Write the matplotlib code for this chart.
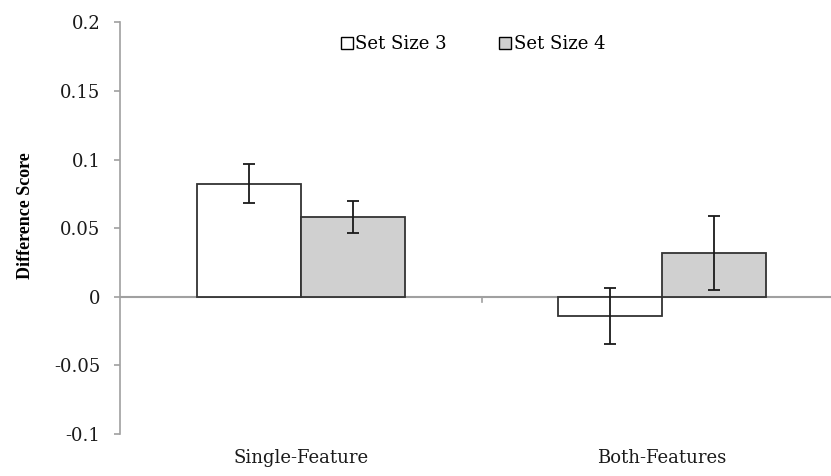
import matplotlib
matplotlib.use("Agg")
import matplotlib.pyplot as plt
import numpy as np
from matplotlib.patches import Patch

categories = ["Single-Feature", "Both-Features"]
series_names = ["Set Size 3", "Set Size 4"]
set3_values = [0.0825, -0.0138]
set3_errors = [0.0142, 0.0203]
set4_values = [0.058, 0.032]
set4_errors = [0.0118, 0.027]
y_ticks = [-0.1, -0.05, 0, 0.05, 0.1, 0.15, 0.2]
y_tick_labels = ["-0.1", "-0.05", "0", "0.05", "0.1", "0.15", "0.2"]

plt.rcParams['font.family'] = ['DejaVu Serif']

fig = plt.figure(figsize=(8.31, 4.76), dpi=100)
ax = fig.add_axes([120.5/831, 1-434/476, 722/831, (434-22.4)/476])

x = np.arange(len(categories))
w = 0.288
edge = "#333333"
ax.bar(x - w/2, set3_values, w, color="white", edgecolor=edge, linewidth=1.3, label=series_names[0], zorder=2)
ax.bar(x + w/2, set4_values, w, color="#d0d0d0", edgecolor=edge, linewidth=1.3, label=series_names[1], zorder=2)
ax.errorbar(x - w/2, set3_values, yerr=set3_errors, fmt="none", ecolor="#1a1a1a", elinewidth=1.3, capsize=4, capthick=1.3, zorder=3)
ax.errorbar(x + w/2, set4_values, yerr=set4_errors, fmt="none", ecolor="#1a1a1a", elinewidth=1.3, capsize=4, capthick=1.3, zorder=3)

ax.set_xlim(-0.5, len(categories) - 0.5)
ax.set_ylim(-0.1, 0.2)
ax.set_yticks(y_ticks)
ax.set_yticklabels(y_tick_labels, fontsize=13)

for s in ["top", "right", "bottom"]:
    ax.spines[s].set_visible(False)
ax.spines["left"].set_color("#a0a0a0")
ax.spines["left"].set_linewidth(1.2)
ax.tick_params(axis="y", direction="out", length=4.5, color="#a0a0a0", width=1.2, pad=10, labelcolor="#1a1a1a")

ax.axhline(0, color="#a0a0a0", linewidth=1.5, zorder=1)
for b in [0.5]:
    ax.plot([b, b], [0, -0.004], color="#a0a0a0", linewidth=1.2, zorder=1, clip_on=False)

ax.set_xticks([])
for xi, c in zip(x, categories):
    ax.text(xi, -0.1108, c, ha="center", va="top", fontsize=13, color="#1a1a1a")

ax.set_ylabel("Difference Score", fontsize=13, fontweight="bold",
              family=["Liberation Serif", "DejaVu Serif"])
ax.yaxis.set_label_coords(-0.12, 0.53)

handles = [Patch(facecolor="white", edgecolor="black", linewidth=1.0),
           Patch(facecolor="#d0d0d0", edgecolor="black", linewidth=1.0)]
leg = ax.legend(handles, series_names, loc="upper center",
                bbox_to_anchor=((473 - 120.5)/722, 1.008),
                ncol=2, frameon=False, fontsize=13, handlelength=0.65, handleheight=0.65,
                handletextpad=0.15, columnspacing=2.9)

fig.savefig("out.png", dpi=100)
